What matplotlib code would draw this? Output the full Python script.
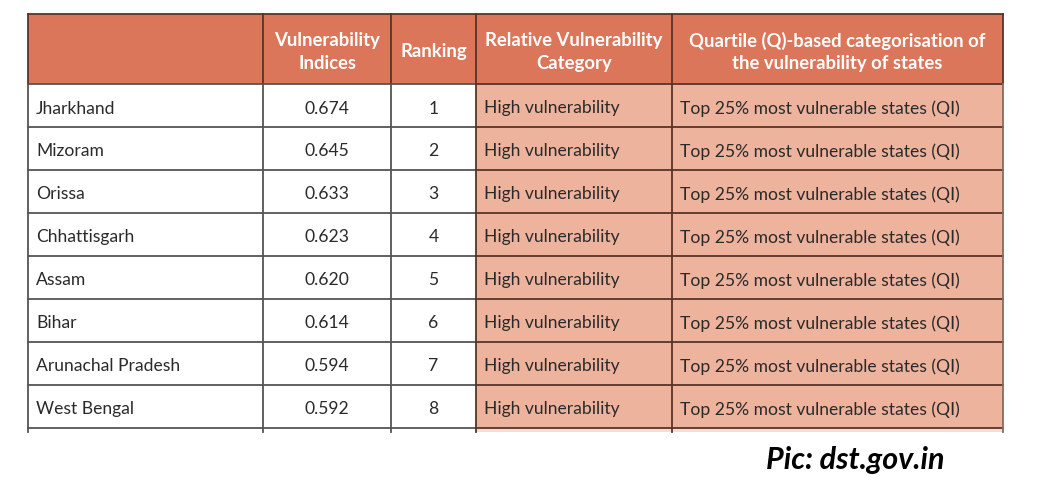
import matplotlib
matplotlib.use("Agg")
import matplotlib.pyplot as plt
from matplotlib.patches import Rectangle

states = ["Jharkhand", "Mizoram", "Orissa", "Chhattisgarh", "Assam", "Bihar",
          "Arunachal Pradesh", "West Bengal"]
indices = ["0.674", "0.645", "0.633", "0.623", "0.620", "0.614", "0.594", "0.592"]
rankings = [1, 2, 3, 4, 5, 6, 7, 8]
categories = ["High vulnerability"] * 8
quartiles = ["Top 25% most vulnerable states (QI)"] * 8
headers = ["", "Vulnerability\nIndices", "Ranking", "Relative Vulnerability\nCategory",
           "Quartile (Q)-based categorisation of\nthe vulnerability of states"]
source = "Pic: dst.gov.in"

W, H = 1037, 485
fig = plt.figure(figsize=(W / 100, H / 100), dpi=100)
ax = fig.add_axes([0, 0, 1, 1])
ax.set_xlim(0, W)
ax.set_ylim(H, 0)
ax.axis("off")

FONT = "Lato"
cols = [28, 263, 391, 476, 672, 1003]
top, head_bot, row_h = 15, 85, 43
partial_bot = 433

HEAD_C = "#DC765A"
PINK = "#EDB39D"
PINK_LIGHT = "#F6DDD3"
GRID = "#555555"
BROWN = "#5A3328"

# header
ax.add_patch(Rectangle((cols[0], top), cols[-1] - cols[0], head_bot - top,
                       facecolor=HEAD_C, edgecolor="none"))
for i, h in enumerate(headers):
    cx = (cols[i] + cols[i + 1]) / 2
    ax.text(cx, (top + head_bot) / 2 + 2, h, ha="center", va="center",
            color="white", fontsize=13.3, fontweight="bold", family=FONT,
            linespacing=1.4)

n = len(states)
for r in range(n):
    y0 = head_bot + r * row_h
    y1 = y0 + row_h
    cy = (y0 + y1) / 2
    ax.add_patch(Rectangle((cols[3], y0), cols[5] - cols[3], row_h,
                           facecolor=PINK, edgecolor="none"))
    vals = [states[r], indices[r], str(rankings[r]), categories[r], quartiles[r]]
    for i, v in enumerate(vals):
        if i in (1, 2):
            x, ha = (cols[i] + cols[i + 1]) / 2, "center"
        else:
            x, ha = cols[i] + 8, "left"
        ax.text(x, cy + 2, v, ha=ha, va="center", color="#2a2a2a",
                fontsize=12.6, family=FONT)

# partial row
y_last = head_bot + n * row_h
ax.add_patch(Rectangle((cols[3], y_last), cols[5] - cols[3], partial_bot - y_last,
                       facecolor=PINK_LIGHT, edgecolor="none"))

# horizontal lines
ax.plot([cols[0], cols[-1]], [top, top], color=BROWN, lw=1.3)
for r in range(n + 1):
    y = head_bot + r * row_h
    ax.plot([cols[0], cols[3]], [y, y], color=GRID, lw=1.3)
    ax.plot([cols[3], cols[-1]], [y, y], color=BROWN, lw=1.3)

# vertical lines
for i, x in enumerate(cols):
    c = BROWN if i >= 3 else GRID
    ax.plot([x, x], [top, head_bot], color=BROWN, lw=1.3)
    ax.plot([x, x], [head_bot, partial_bot], color=c if i < 5 else "#8a6a64",
            lw=1.3)

ax.text(944, 460, source, ha="right", va="center", fontsize=22,
        fontweight="bold", fontstyle="italic", family=FONT, color="black")

fig.savefig("out.png", dpi=100)
